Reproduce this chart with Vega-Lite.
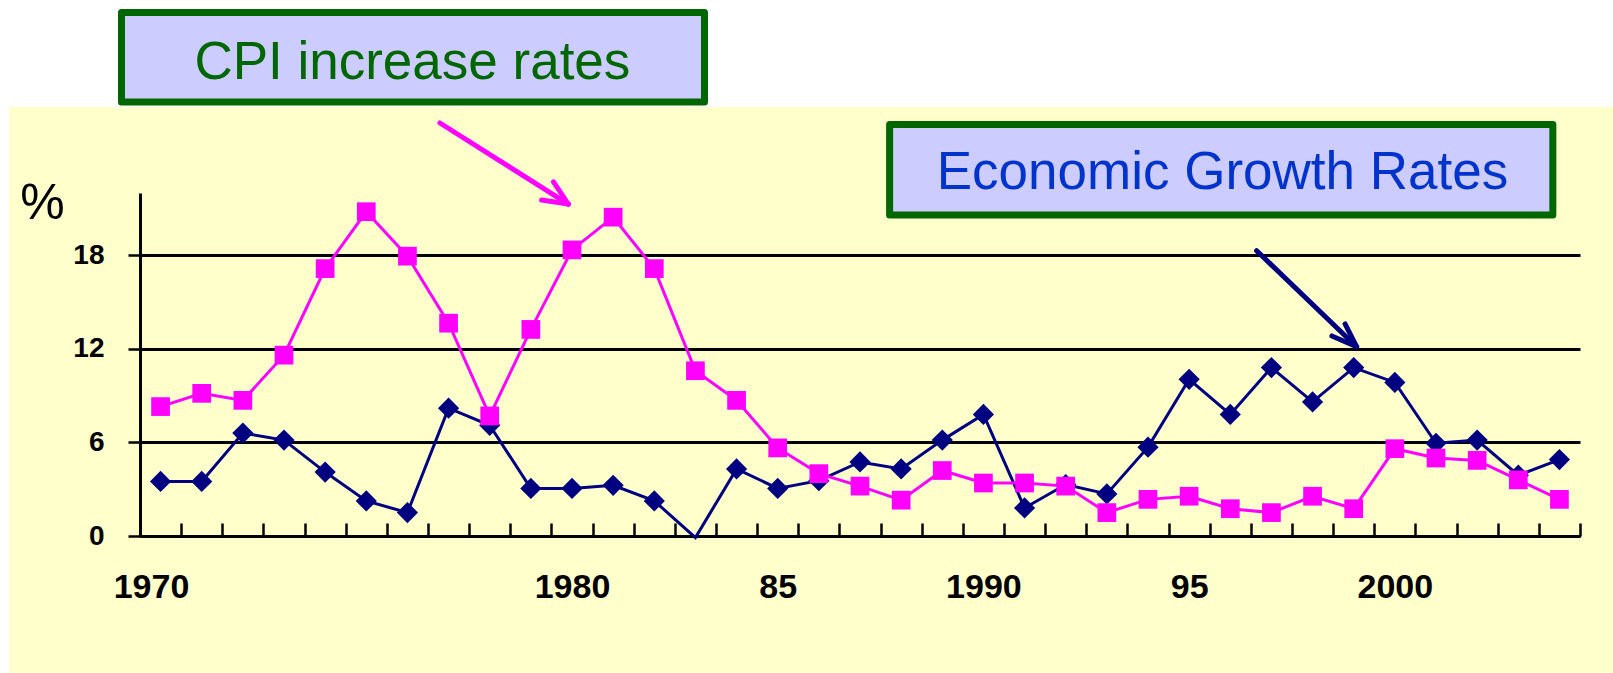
{
  "$schema": "https://vega.github.io/schema/vega-lite/v6.json",
  "autosize": "none",
  "padding": {"left": 140, "top": 193, "right": 33, "bottom": 137},
  "width": 1440,
  "height": 343,
  "background": "#FFFFCC",
  "config": {
    "view": {"stroke": null},
    "font": "Liberation Sans"
  },
  "datasets": {
    "rates": [
      {"year": 1970, "cpi": 8.3, "gdp": 3.5},
      {"year": 1971, "cpi": 9.15, "gdp": 3.5},
      {"year": 1972, "cpi": 8.7, "gdp": 6.6},
      {"year": 1973, "cpi": 11.6, "gdp": 6.15},
      {"year": 1974, "cpi": 17.15, "gdp": 4.1},
      {"year": 1975, "cpi": 20.8, "gdp": 2.25},
      {"year": 1976, "cpi": 17.95, "gdp": 1.5},
      {"year": 1977, "cpi": 13.65, "gdp": 8.2},
      {"year": 1978, "cpi": 7.7, "gdp": 7.1},
      {"year": 1979, "cpi": 13.25, "gdp": 3.05},
      {"year": 1980, "cpi": 18.35, "gdp": 3.05},
      {"year": 1981, "cpi": 20.45, "gdp": 3.25},
      {"year": 1982, "cpi": 17.15, "gdp": 2.25},
      {"year": 1983, "cpi": 10.6, "gdp": -0.1},
      {"year": 1984, "cpi": 8.7, "gdp": 4.3},
      {"year": 1985, "cpi": 5.65, "gdp": 3.05},
      {"year": 1986, "cpi": 4.0, "gdp": 3.55},
      {"year": 1987, "cpi": 3.2, "gdp": 4.75},
      {"year": 1988, "cpi": 2.3, "gdp": 4.3},
      {"year": 1989, "cpi": 4.2, "gdp": 6.15},
      {"year": 1990, "cpi": 3.4, "gdp": 7.8},
      {"year": 1991, "cpi": 3.4, "gdp": 1.8},
      {"year": 1992, "cpi": 3.2, "gdp": 3.3},
      {"year": 1993, "cpi": 1.5, "gdp": 2.7},
      {"year": 1994, "cpi": 2.35, "gdp": 5.7},
      {"year": 1995, "cpi": 2.55, "gdp": 10.05},
      {"year": 1996, "cpi": 1.75, "gdp": 7.8},
      {"year": 1997, "cpi": 1.5, "gdp": 10.8},
      {"year": 1998, "cpi": 2.55, "gdp": 8.6},
      {"year": 1999, "cpi": 1.75, "gdp": 10.8},
      {"year": 2000, "cpi": 5.6, "gdp": 9.85},
      {"year": 2001, "cpi": 5.0, "gdp": 5.95},
      {"year": 2002, "cpi": 4.85, "gdp": 6.15},
      {"year": 2003, "cpi": 3.6, "gdp": 3.9},
      {"year": 2004, "cpi": 2.35, "gdp": 4.9}
    ],
    "paper": [
      {"x": 1960, "x2": 2010, "y": 27.52, "y2": 40},
      {"x": 1960, "x2": 1966.32, "y": -15, "y2": 27.52}
    ],
    "boxes": [
      {"label": "CPI increase rates", "x": 1969.05, "x2": 1983.22, "y": 33.58, "y2": 27.84, "tx": 1976.12, "ty": 29.34},
      {"label": "Economic Growth Rates", "x": 1987.72, "x2": 2003.84, "y": 26.39, "y2": 20.59, "tx": 1995.81, "ty": 22.24}
    ],
    "arrows": [
      {"note": "CPI", "x": 1976.79, "y": 26.49, "x2": 1979.91, "y2": 21.29},
      {"note": "CPI", "x": 1979.91, "y": 21.29, "x2": 1979.26, "y2": 21.55},
      {"note": "CPI", "x": 1979.91, "y": 21.29, "x2": 1979.55, "y2": 22.72},
      {"note": "GDP", "x": 1996.64, "y": 18.3, "x2": 1999.07, "y2": 12.14},
      {"note": "GDP", "x": 1999.07, "y": 12.14, "x2": 1998.47, "y2": 12.83},
      {"note": "GDP", "x": 1999.07, "y": 12.14, "x2": 1998.79, "y2": 13.6}
    ]
  },
  "layer": [
    {
      "data": {"name": "paper"},
      "mark": {"type": "rect", "fill": "white", "clip": false},
      "encoding": {
        "x": {"field": "x", "type": "quantitative", "scale": {"domain": [1969.5, 2004.5], "nice": false, "zero": false},
          "axis": {
            "values": [1969.5, 1970.5, 1971.5, 1972.5, 1973.5, 1974.5, 1975.5, 1976.5, 1977.5, 1978.5, 1979.5, 1980.5, 1981.5, 1982.5, 1983.5, 1984.5, 1985.5, 1986.5, 1987.5, 1988.5, 1989.5, 1990.5, 1991.5, 1992.5, 1993.5, 1994.5, 1995.5, 1996.5, 1997.5, 1998.5, 1999.5, 2000.5, 2001.5, 2002.5, 2003.5, 2004.5],
            "title": null,
            "grid": false,
            "domainColor": "black", "domainWidth": 3,
            "tickColor": "black", "tickWidth": 2.5, "tickSize": -13,
            "labelExpr": "datum.value == 1969.5 ? '1970' : datum.value == 1979.5 ? '1980' : datum.value == 1984.5 ? '85' : datum.value == 1989.5 ? '1990' : datum.value == 1994.5 ? '95' : datum.value == 1999.5 ? '2000' : ''",
            "labelFont": "Liberation Sans", "labelFontSize": 34, "labelFontWeight": "bold", "labelColor": "black",
            "labelOffset": {"condition": {"test": "datum.value == 1969.5", "value": 11}, "value": 20.57},
            "labelPadding": 74, "labelBaseline": "alphabetic",
            "labelFlush": false, "labelOverlap": false, "labelBound": false
          }
        },
        "x2": {"field": "x2"},
        "y": {"field": "y", "type": "quantitative", "scale": {"domain": [0, 22], "nice": false, "zero": true},
          "axis": {
            "values": [0, 6, 12, 18],
            "domainColor": "black", "domainWidth": 3,
            "tickColor": "black", "tickWidth": 2.5, "tickSize": 12,
            "grid": true, "gridColor": "black", "gridWidth": 3, "gridOpacity": 1,
            "labelFont": "Liberation Sans", "labelFontSize": 28, "labelFontWeight": "bold", "labelColor": "black", "labelPadding": 24,
            "title": "%", "titleAngle": 0, "titleFont": "Liberation Sans", "titleFontSize": 50, "titleFontWeight": "normal", "titleColor": "black",
            "titleX": -98, "titleY": 10, "titleAlign": "center", "titleBaseline": "middle"
          }
        },
        "y2": {"field": "y2"}
      }
    },
    {
      "data": {"name": "boxes"},
      "mark": {"type": "rect", "fill": "#CCCCFF", "stroke": "#006600", "strokeWidth": 7, "strokeJoin": "round", "clip": false},
      "encoding": {
        "x": {"field": "x", "type": "quantitative"},
        "x2": {"field": "x2"},
        "y": {"field": "y", "type": "quantitative"},
        "y2": {"field": "y2"}
      }
    },
    {
      "data": {"name": "boxes"},
      "mark": {"type": "text", "font": "Liberation Sans", "fontSize": 53, "align": "center", "baseline": "alphabetic", "clip": false},
      "encoding": {
        "x": {"field": "tx", "type": "quantitative"},
        "y": {"field": "ty", "type": "quantitative"},
        "text": {"field": "label"},
        "color": {"condition": {"test": "datum.label === 'CPI increase rates'", "value": "#006600"}, "value": "#0033CC"}
      }
    },
    {
      "data": {"name": "arrows"},
      "mark": {"type": "rule", "strokeWidth": 5, "strokeCap": "round", "clip": false},
      "encoding": {
        "x": {"field": "x", "type": "quantitative"},
        "y": {"field": "y", "type": "quantitative"},
        "x2": {"field": "x2"},
        "y2": {"field": "y2"},
        "color": {"condition": {"test": "datum.note === 'CPI'", "value": "#FF00FF"}, "value": "#000080"}
      }
    },
    {
      "data": {"name": "rates"},
      "mark": {"type": "line", "color": "#000080", "strokeWidth": 3, "clip": false},
      "encoding": {
        "x": {"field": "year", "type": "quantitative"},
        "y": {"field": "gdp", "type": "quantitative"}
      }
    },
    {
      "data": {"name": "rates"},
      "transform": [{"filter": "datum.gdp >= 0"}],
      "mark": {"type": "point", "shape": "diamond", "filled": true, "color": "#000080", "size": 450, "opacity": 1},
      "encoding": {
        "x": {"field": "year", "type": "quantitative"},
        "y": {"field": "gdp", "type": "quantitative"}
      }
    },
    {
      "data": {"name": "rates"},
      "mark": {"type": "line", "color": "#FF00FF", "strokeWidth": 3, "clip": false},
      "encoding": {
        "x": {"field": "year", "type": "quantitative"},
        "y": {"field": "cpi", "type": "quantitative"}
      }
    },
    {
      "data": {"name": "rates"},
      "mark": {"type": "point", "shape": "square", "filled": true, "color": "#FF00FF", "size": 350, "opacity": 1},
      "encoding": {
        "x": {"field": "year", "type": "quantitative"},
        "y": {"field": "cpi", "type": "quantitative"}
      }
    }
  ]
}
